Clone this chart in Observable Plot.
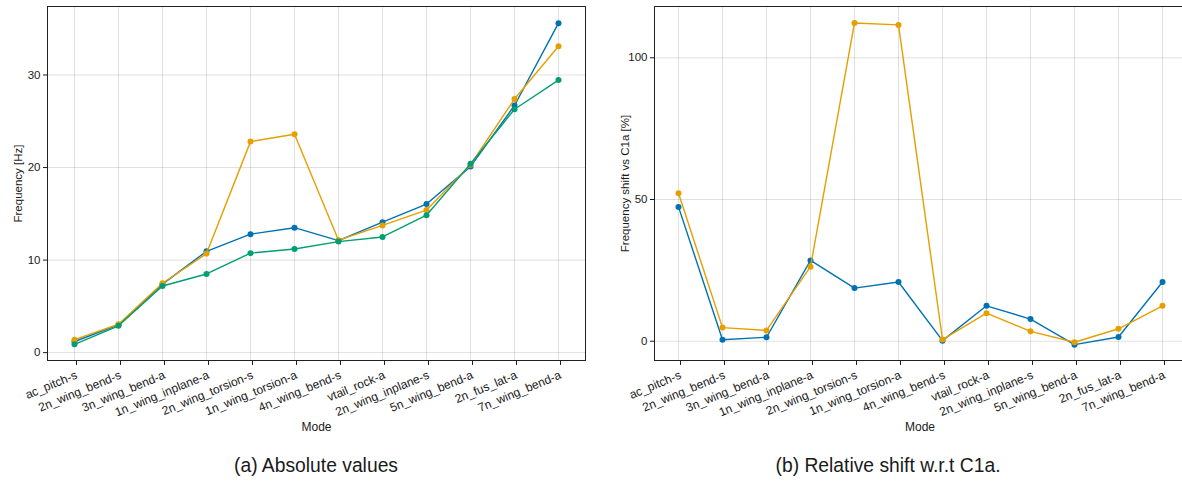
<!DOCTYPE html>
<html>
<head>
<meta charset="utf-8">
<script src="https://cdn.jsdelivr.net/npm/d3@7"></script>
<script src="https://cdn.jsdelivr.net/npm/@observablehq/plot@0.6"></script>
<style>
  html, body { margin: 0; padding: 0; background: #fff; overflow: hidden; }
  #wrap { position: relative; width: 1182px; height: 491px; overflow: hidden; font-family: "Liberation Sans", Arial, sans-serif; }
  .panel { position: absolute; top: 0; width: 600px; height: 440px; }
  .panel svg { max-width: none !important; }
  .cap { position: absolute; font-size: 19.3px; color: #1a1a1a; white-space: nowrap; transform: translateX(-50%); }
</style>
</head>
<body>
<div id="wrap">
  <div id="left" class="panel" style="left:0px"></div>
  <div id="right" class="panel" style="left:600px"></div>
  <div class="cap" style="left:316px; top:455px">(a) Absolute values</div>
  <div class="cap" style="left:888px; top:455px">(b) Relative shift w.r.t C1a.</div>
</div>
<script>
const modes = ["ac_pitch-s", "2n_wing_bend-s", "3n_wing_bend-a", "1n_wing_inplane-a", "2n_wing_torsion-s",
  "1n_wing_torsion-a", "4n_wing_bend-s", "vtail_rock-a", "2n_wing_inplane-s", "5n_wing_bend-a", "2n_fus_lat-a", "7n_wing_bend-a"];

// Absolute frequencies [Hz]
const absBlue   = [1.2, 3.0, 7.4, 10.95, 12.8, 13.5, 12.1, 14.1, 16.05, 20.1, 26.7, 35.6];
const absOrange = [1.4, 3.07, 7.5, 10.7, 22.8, 23.6, 12.15, 13.75, 15.4, 20.3, 27.4, 33.1];
const absGreen  = [0.9, 2.9, 7.2, 8.5, 10.75, 11.2, 12.0, 12.5, 14.85, 20.4, 26.3, 29.45];

// Relative shift vs C1a [%]
const relBlue   = [47.4, 0.5, 1.4, 28.5, 18.75, 20.9, 0.2, 12.5, 7.8, -1.2, 1.5, 20.9];
const relOrange = [52.2, 4.8, 3.8, 26.3, 112.3, 111.6, 0.6, 9.9, 3.5, -0.35, 4.4, 12.5];

const seriesColors = {blue: "#0072B2", orange: "#E69F00", green: "#009E73"};

const yTicksAbs = [0, 10, 20, 30];
const yTicksRel = [0, 50, 100];

function rows(series) {
  const out = [];
  for (const [name, vals] of series) vals.forEach((v, i) => out.push({mode: modes[i], value: v, series: name}));
  return out;
}

function panel({data, order, yDomain, yTicks, yLabel, width, marginLeft, marginRight, xPadding}) {
  const marks = [
    Plot.gridX(modes, {stroke: "#000", strokeOpacity: 0.12, strokeWidth: 1}),
    Plot.gridY(yTicks, {stroke: "#000", strokeOpacity: 0.12, strokeWidth: 1}),
    Plot.axisY({ticks: yTicks, tickSize: 4, tickPadding: 3, fontSize: 11.5, label: yLabel, labelAnchor: "center", labelArrow: "none", labelOffset: 34}),
    Plot.axisX({tickSize: 5, tickPadding: 9, tickRotate: -22.5, fontSize: 12, dx: 2, label: "Mode", labelAnchor: "center", labelArrow: "none", labelOffset: 70}),
  ];
  for (const s of order) {
    const d = data.filter(r => r.series === s);
    marks.push(Plot.line(d, {x: "mode", y: "value", stroke: seriesColors[s], strokeWidth: 1.4}));
    marks.push(Plot.dot(d, {x: "mode", y: "value", fill: seriesColors[s], r: 3}));
  }
  marks.push(Plot.frame({stroke: "#222", strokeWidth: 1}));
  return Plot.plot({
    width, height: 440,
    marginTop: 6, marginBottom: 80, marginLeft, marginRight,
    style: {fontFamily: "'Liberation Sans', Arial, sans-serif", fontSize: "11.5px", color: "#1a1a1a", background: "transparent", overflow: "visible", maxWidth: "none"},
    x: {type: "point", domain: modes, padding: xPadding, label: null},
    y: {domain: yDomain, label: null},
    marks
  });
}

const absData = rows([["blue", absBlue], ["orange", absOrange], ["green", absGreen]]);
const relData = rows([["blue", relBlue], ["orange", relOrange]]);

document.getElementById("left").append(panel({
  data: absData, order: ["blue", "orange", "green"], yDomain: [-0.85, 37.4], yTicks: yTicksAbs,
  yLabel: "Frequency [Hz]", width: 600, marginLeft: 47, marginRight: 15, xPadding: 0.55
}));
document.getElementById("right").append(panel({
  data: relData, order: ["blue", "orange"], yDomain: [-6.8, 118.1], yTicks: yTicksRel,
  yLabel: "Frequency shift vs C1a [%]", width: 600, marginLeft: 54, marginRight: 15, xPadding: 0.53
}));
</script>
</body>
</html>
